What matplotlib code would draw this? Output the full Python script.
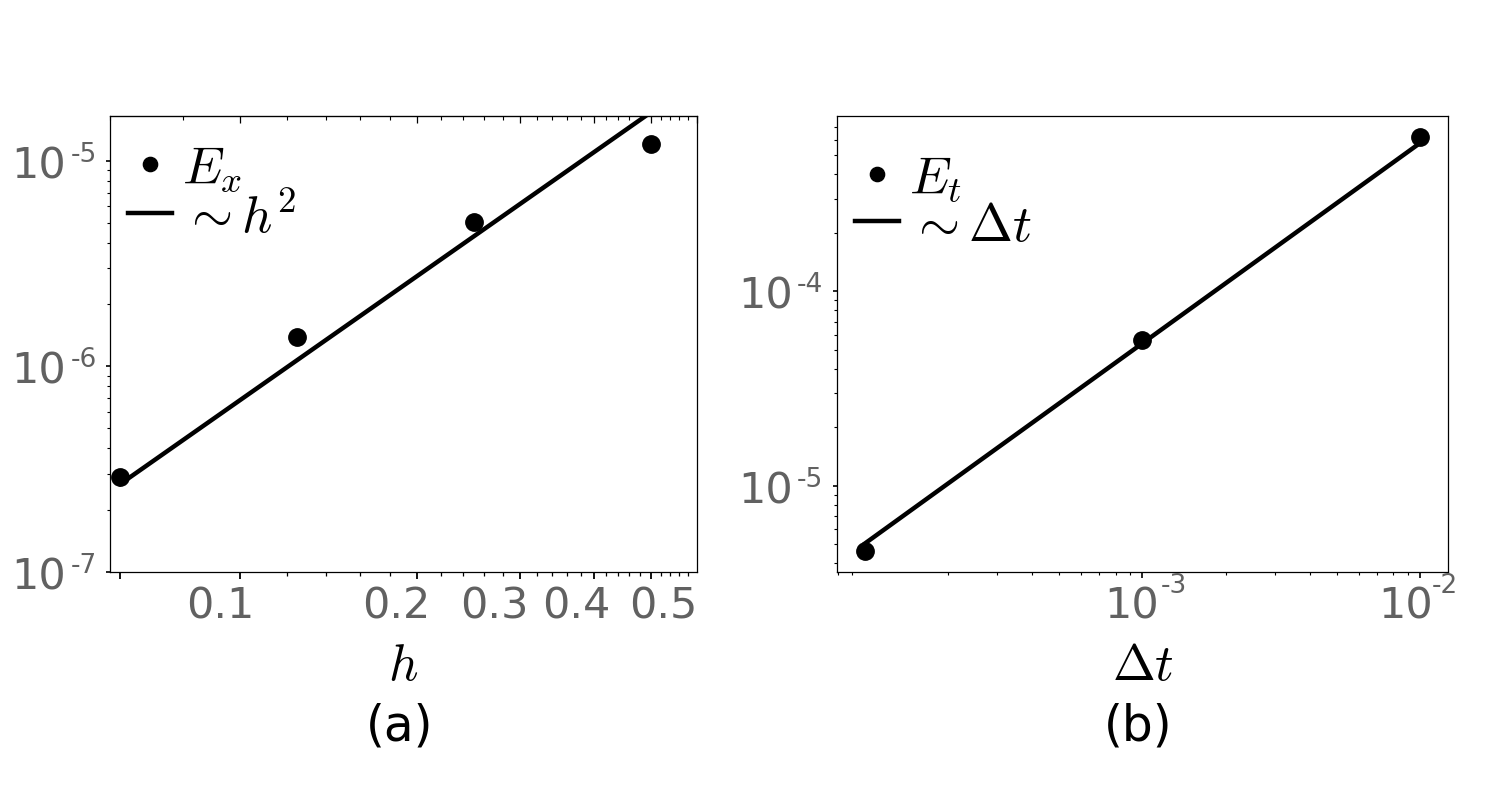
import matplotlib
matplotlib.use('Agg')
import matplotlib.pyplot as plt
from matplotlib.ticker import FixedLocator, NullFormatter, MultipleLocator, LogLocator
from matplotlib.transforms import ScaledTranslation

# ---- data (a) ----
h = [1/16, 1/8, 1/4, 1/2]
E_x = [2.90e-7, 1.39e-6, 5.05e-6, 1.20e-5]
h_ref = [1/16, 1/2]
h2_ref = [2.68e-7, 1.715e-5]

# ---- data (b) ----
dt = [1e-4, 1e-3, 1e-2]
E_t = [4.61e-6, 5.63e-5, 6.24e-4]
dt_ref = [1e-4, 1e-2]
dt_line = [5.05e-6, 5.8e-4]

# ---- ticks / tick labels ----
h_ticks = [0.0625, 0.1, 0.2, 0.3, 0.4, 0.5]
h_ticklabels = ['', '0.1', '0.2', '0.3', '0.4', '0.5']
h_minor = [0.12, 0.14, 0.16, 0.18, 0.22, 0.24, 0.26, 0.28, 0.32, 0.34, 0.36, 0.38,
           0.42, 0.44, 0.46, 0.48, 0.52, 0.54, 0.56, 0.58]
ya_ticks = [1e-7, 1e-6, 1e-5]
ya_exps = ['-7', '-6', '-5']
dt_ticks = [1e-3, 1e-2]
dt_exps = ['-3', '-2']
yb_ticks = [1e-5, 1e-4]
yb_exps = ['-5', '-4']

plt.rcParams['font.family'] = ['DejaVu Sans']
plt.rcParams['mathtext.fontset'] = 'cm'

W, H = 1495, 812
fig = plt.figure(figsize=(W / 100, H / 100), dpi=100)
ax1 = fig.add_axes([110 / W, 1 - 573 / H, 587 / W, 456 / H])
ax2 = fig.add_axes([837 / W, 1 - 573 / H, 611 / W, 456 / H])

TICKCOL = '#616161'
FS_TICK = 31
FS_EXP = 19
FS_LEG = 38
FS_LAB = 37

# horizontal pixel offsets of tick labels as seen in the reference
h_label_shift = [0, -20, -21, -26, -17, 13]
dt_base_shift = [-11, -15]
dt_exp_shift = [18, 12]


def px(dx, dy):
    return ScaledTranslation(dx / 100, dy / 100, fig.dpi_scale_trans)


def y_sci(ax, ticks, exps):
    ax.set_yticks(ticks)
    ax.set_yticklabels(['10'] * len(ticks))
    ax.yaxis.set_minor_formatter(NullFormatter())
    ax.tick_params(axis='y', which='major', length=3.2, width=1.2, labelsize=FS_TICK,
                   labelcolor=TICKCOL, pad=28.5)
    ax.tick_params(axis='y', which='minor', length=2, width=0.8)
    for v, e in zip(ticks, exps):
        ax.text(0, v, e, transform=ax.get_yaxis_transform() + px(-13.5, 0),
                ha='right', va='baseline', fontsize=FS_EXP, color=TICKCOL, clip_on=False)


# ---------- (a) ----------
ax1.plot(h, E_x, 'o', ms=12.5, color='k', label=r'$E_x$', zorder=3)
ax1.plot(h_ref, h2_ref, '-', lw=3.2, color='k', label=r'$\sim h^2$', zorder=2)
ax1.set_xscale('log')
ax1.set_yscale('log')
ax1.set_xticks(h_ticks)
ax1.set_xticklabels(h_ticklabels)
ax1.xaxis.set_minor_locator(FixedLocator(h_minor))
ax1.xaxis.set_minor_formatter(NullFormatter())
y_sci(ax1, ya_ticks, ya_exps)
ax1.set_xlim(0.06, 0.6)
ax1.set_ylim(1e-7, 1.65e-5)
ax1.tick_params(axis='x', which='major', length=5, width=1.3, labelsize=FS_TICK,
                labelcolor=TICKCOL, pad=4)
ax1.tick_params(axis='x', which='minor', length=3, width=0.9)
for lab, s in zip(ax1.get_xticklabels(), h_label_shift):
    lab.set_transform(lab.get_transform() + px(s, 0))
sec = ax1.secondary_xaxis('top')
sec.xaxis.set_major_locator(MultipleLocator(0.1))
sec.xaxis.set_minor_locator(MultipleLocator(0.02))
sec.xaxis.set_major_formatter(NullFormatter())
sec.xaxis.set_minor_formatter(NullFormatter())
sec.tick_params(which='major', direction='in', length=5, width=0.9)
sec.tick_params(which='minor', direction='in', length=3, width=0.8)
ax1.set_xlabel(r'$h$', fontsize=FS_LAB, labelpad=10)
ax1.legend(loc='upper left', bbox_to_anchor=(0, 1 - 8 / 456), frameon=False,
           fontsize=FS_LEG, handlelength=0.83, handletextpad=0.2, borderaxespad=0.17,
           borderpad=0.17, markerscale=0.82, labelspacing=-0.06)

# ---------- (b) ----------
ax2.plot(dt, E_t, 'o', ms=12.5, color='k', label=r'$E_t$', zorder=3)
ax2.plot(dt_ref, dt_line, '-', lw=3.2, color='k', label=r'$\sim \Delta t$', zorder=2)
ax2.set_xscale('log')
ax2.set_yscale('log')
ax2.set_xticks(dt_ticks)
ax2.set_xticklabels(['10'] * len(dt_ticks))
ax2.xaxis.set_minor_locator(LogLocator(subs=range(2, 10)))
ax2.xaxis.set_minor_formatter(NullFormatter())
ax2.yaxis.set_minor_locator(LogLocator(subs=range(2, 10)))
y_sci(ax2, yb_ticks, yb_exps)
ax2.tick_params(axis='x', which='major', length=4, width=1.2, labelsize=FS_TICK,
                labelcolor=TICKCOL, pad=5)
ax2.tick_params(axis='x', which='minor', length=2, width=0.8)
for lab, s in zip(ax2.get_xticklabels(), dt_base_shift):
    lab.set_transform(lab.get_transform() + px(s, 0))
for v, e, s in zip(dt_ticks, dt_exps, dt_exp_shift):
    ax2.text(v, 0, e, transform=ax2.get_xaxis_transform() + px(s, -20),
             ha='left', va='baseline', fontsize=FS_EXP, color=TICKCOL, clip_on=False)
ax2.set_xlabel(r'$\Delta t$', fontsize=FS_LAB, labelpad=10)
ax2.legend(loc='upper left', bbox_to_anchor=(0, 1 - 18 / 456), frameon=False,
           fontsize=FS_LEG, handlelength=0.83, handletextpad=0.2, borderaxespad=0.17,
           borderpad=0.17, markerscale=0.82, labelspacing=-0.1)

for ax in (ax1, ax2):
    for s in ax.spines.values():
        s.set_linewidth(0.9)

fig.text(400 / W, 1 - 727 / H, '(a)', ha='center', va='center', fontsize=35)
fig.text(1138 / W, 1 - 727 / H, '(b)', ha='center', va='center', fontsize=35)

fig.savefig('out.png', dpi=100)
